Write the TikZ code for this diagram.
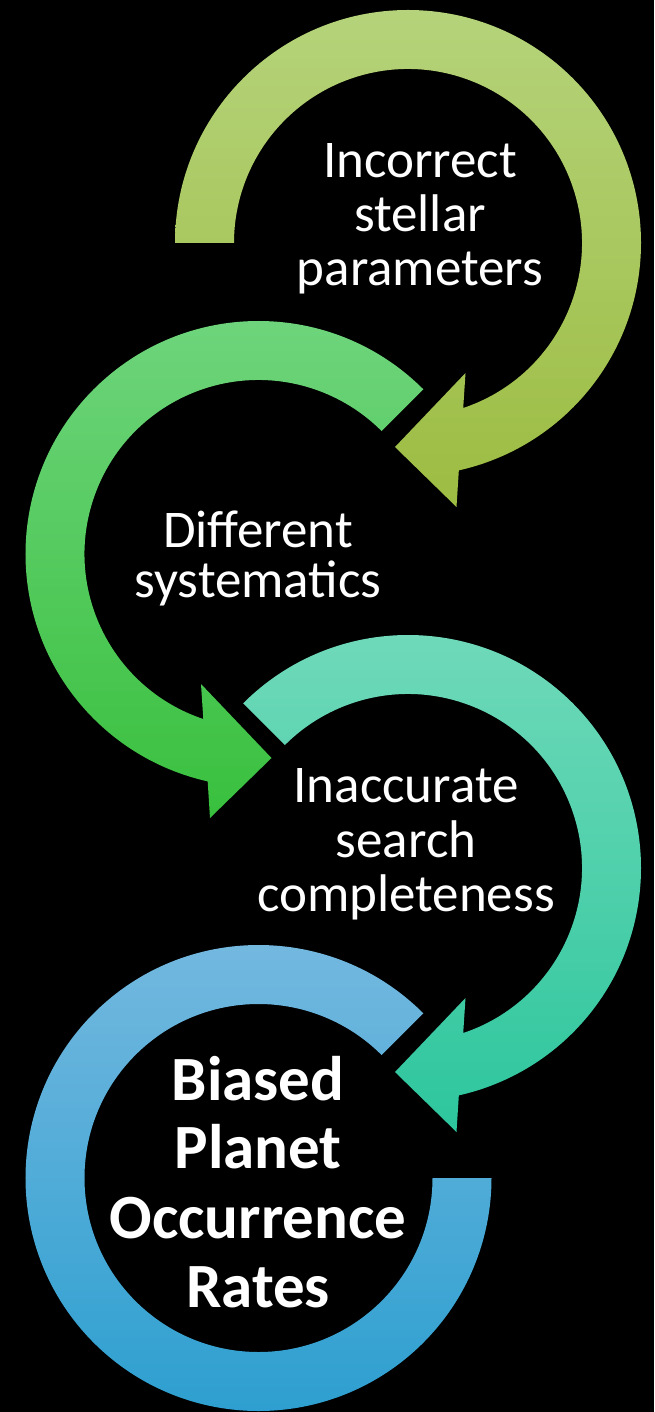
\documentclass[tikz,border=0pt]{standalone}
\usepackage{fontspec}
\setmainfont{Carlito}
\begin{document}
\begin{tikzpicture}[x=1pt,y=1pt]
  % colours of the four rings (top and bottom of each vertical gradient)
  \definecolor{aTop}{RGB}{181,211,122}
  \definecolor{aBot}{RGB}{156,188,66}
  \definecolor{bTop}{RGB}{112,213,126}
  \definecolor{bBot}{RGB}{57,192,62}
  \definecolor{cTop}{RGB}{114,218,186}
  \definecolor{cBot}{RGB}{45,198,157}
  \definecolor{dTop}{RGB}{118,185,224}
  \definecolor{dBot}{RGB}{42,158,207}
  \tikzset{
    ringA/.style={top color=aTop, bottom color=aBot},
    ringB/.style={top color=bTop, bottom color=bBot},
    ringC/.style={top color=cTop, bottom color=cBot},
    ringD/.style={top color=dTop, bottom color=dBot},
    label/.style={text=white, inner sep=0pt, anchor=base,
      font=\fontsize{53}{54}\selectfont},
    boldlabel/.style={text=white, inner sep=0pt, anchor=base,
      font=\fontsize{63}{66}\selectfont\bfseries},
  }
  \fill[black] (0,0) rectangle (654,-1412);
  \useasboundingbox (0,0) rectangle (654,-1412);

  % ring 1: starts flat on the left, turns clockwise, ends in an arrowhead
  \begin{scope}[shift={(408,-243)}]
    \shade[ringA] (180:233pt) arc[start angle=180, end angle=-77.4, radius=233pt]
      -- (48.5,-264) -- (-13,-204) -- (57.5,-130)
      -- (-71.5:174pt) arc[start angle=-71.5, end angle=180, radius=174pt] -- cycle;
  \end{scope}

  % ring 2: mirrored, turns anticlockwise
  \begin{scope}[shift={(258.5,-554)}, xscale=-1]
    \shade[ringB] (135:233pt) arc[start angle=135, end angle=-77.4, radius=233pt]
      -- (48.5,-264) -- (-13,-204) -- (57.5,-130)
      -- (-71.5:174pt) arc[start angle=-71.5, end angle=135, radius=174pt] -- cycle;
  \end{scope}

  % ring 3
  \begin{scope}[shift={(408,-868)}]
    \shade[ringC] (135:233pt) arc[start angle=135, end angle=-77.4, radius=233pt]
      -- (48.5,-264) -- (-13,-204) -- (57.5,-130)
      -- (-71.5:174pt) arc[start angle=-71.5, end angle=135, radius=174pt] -- cycle;
  \end{scope}

  % ring 4: open ring without arrowhead
  \begin{scope}[shift={(258.5,-1178)}]
    \shade[ringD] (45:233pt) arc[start angle=45, end angle=360, radius=233pt]
      -- (0:174pt) arc[start angle=360, end angle=45, radius=174pt] -- cycle;
  \end{scope}

  % labels
  \node[label] (a1) at (420,-178) {Incorrect};
  \node[label] (a2) at (420,-232) {stellar};
  \node[label] (a3) at (420,-286) {parameters};

  \node[label] (b1) at (258,-547) {Different};
  \node[label] (b2) at (258,-597) {systematics};

  \node[label] (c1) at (406,-802) {Inaccurate};
  \node[label] (c2) at (406,-857) {search};
  \node[label] (c3) at (406,-911) {completeness};

  \node[boldlabel] (d1) at (258,-1100) {Biased};
  \node[boldlabel] (d2) at (258,-1168) {Planet};
  \node[boldlabel] (d3) at (258,-1238) {Occurrence};
  \node[boldlabel] (d4) at (258,-1307) {Rates};
\end{tikzpicture}
\end{document}
